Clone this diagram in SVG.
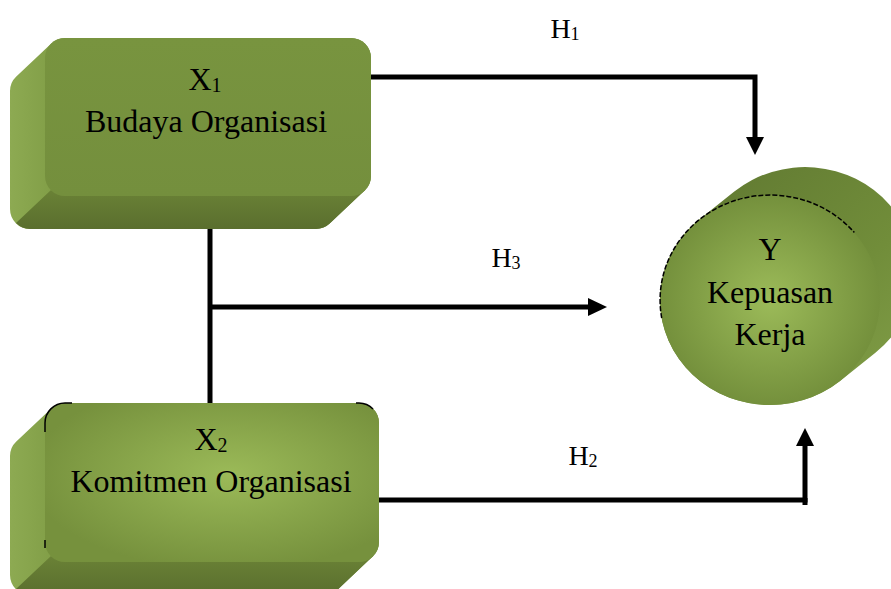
<svg xmlns="http://www.w3.org/2000/svg" width="891" height="589" viewBox="0 0 891 589">
<defs>
<style>
.lbl{fill:#000;text-anchor:middle;font-family:'Liberation Serif','Times New Roman',serif}
.big{font-size:32px}
.h{font-size:28px}
.conn{fill:none;stroke:#000;stroke-width:5;stroke-linecap:butt;stroke-linejoin:miter}
.side{fill:url(#sideL)}
.bottom{fill:url(#sideB)}
</style>
<linearGradient id="sideL" x1="0" y1="0" x2="1" y2="0">
<stop offset="0" stop-color="#8DAA52"/>
<stop offset="0.15" stop-color="#7E9B44"/>
<stop offset="1" stop-color="#6F8A38"/>
</linearGradient>
<linearGradient id="sideB" x1="0" y1="0" x2="0" y2="1">
<stop offset="0" stop-color="#6A8236"/>
<stop offset="1" stop-color="#5A6E2E"/>
</linearGradient>
<linearGradient id="front1" x1="0" y1="0" x2="0" y2="1">
<stop offset="0" stop-color="#78943F"/>
<stop offset="1" stop-color="#748F3D"/>
</linearGradient>
<radialGradient id="front2" cx="0.55" cy="0.45" r="0.6">
<stop offset="0" stop-color="#9BBA58"/>
<stop offset="1" stop-color="#76913D"/>
</radialGradient>
<radialGradient id="circ" cx="0.5" cy="0.5" r="0.5">
<stop offset="0" stop-color="#9CBB59"/>
<stop offset="1" stop-color="#74903C"/>
</radialGradient>
<linearGradient id="cyl" x1="0" y1="0" x2="1" y2="1">
<stop offset="0" stop-color="#5E7630"/>
<stop offset="0.6" stop-color="#718D3A"/>
<stop offset="1" stop-color="#83A049"/>
</linearGradient>
</defs>

<g id="connectors">
<polyline class="conn" points="371,77 755,77 755,138"/>
<path d="M746,137 L764,137 L755,155 Z" fill="#000"/>
<line class="conn" x1="210" y1="228" x2="210" y2="404"/>
<polyline class="conn" points="210,307 589,307"/>
<path d="M588,298 L588,316 L607,307 Z" fill="#000"/>
<polyline class="conn" points="379,500 805,500 805,446"/>
<line class="conn" x1="805" y1="498" x2="805" y2="505"/>
<path d="M796,446 L814,446 L805,428 Z" fill="#000"/>
</g>

<g id="node-x1">
<path class="side" d="M51.3,43.4 A20,20 0 0 1 65,38 L351,38 A20,20 0 0 1 371,58 L371,176 A20,20 0 0 1 364.7,190.6 L329.7,223.6 A20,20 0 0 1 316,229 L30,229 A20,20 0 0 1 10,209 L10,91 A20,20 0 0 1 16.3,76.4 Z"/>
<path class="bottom" d="M51,190 L365,190 L329.7,223.6 A20,20 0 0 1 316,229 L30,229 A20,20 0 0 1 16,223 Z"/>
<rect x="45" y="38" width="326" height="158" rx="20" fill="url(#front1)"/>
<text class="lbl big" x="205" y="90">X<tspan font-size="20" dy="2">1</tspan></text>
<text class="lbl big" x="206" y="132">Budaya Organisasi</text>
</g>

<g id="node-x2">
<path class="side" d="M51.3,408.4 A20,20 0 0 1 65,403 L359,403 A20,20 0 0 1 379,423 L379,542 A20,20 0 0 1 372.7,556.6 L337.7,589.6 A20,20 0 0 1 324,595 L30,595 A20,20 0 0 1 10,575 L10,456 A20,20 0 0 1 16.3,441.4 Z"/>
<path class="bottom" d="M51,556 L373,556 L337.7,589.6 A20,20 0 0 1 324,595 L30,595 A20,20 0 0 1 16,589 Z"/>
<rect x="45" y="403" width="334" height="159" rx="20" fill="url(#front2)"/>
<path d="M45,432 L45,423 A20,20 0 0 1 65,403 L72,403" fill="none" stroke="#000" stroke-width="1.5"/>
<path d="M356,403 L359,403 A20,20 0 0 1 373,409" fill="none" stroke="#000" stroke-width="1.5"/>
<path d="M45,540 L45,548" fill="none" stroke="#000" stroke-width="1.5"/>
<text class="lbl big" x="211" y="450">X<tspan font-size="20" dy="2">2</tspan></text>
<text class="lbl big" x="211" y="492">Komitmen Organisasi</text>
</g>

<g id="node-y">
<path fill="url(#cyl)" d="M699.3,219.6 L734.3,191.6 A110,105 0 0 1 889.3,204.5 A110,105 0 0 1 875.7,352.4 L840.7,380.4 A110,105 0 0 1 685.7,367.5 A110,105 0 0 1 699.3,219.6 Z"/>
<ellipse cx="770" cy="300" rx="110" ry="105" fill="url(#circ)"/>
<path d="M661.7,318 A110,105 0 0 1 854.3,232.5" fill="none" stroke="#000" stroke-width="1.5" stroke-dasharray="5,2"/>
<text class="lbl big" x="770" y="260">Y</text>
<text class="lbl big" x="770" y="303">Kepuasan</text>
<text class="lbl big" x="770" y="345">Kerja</text>
</g>

<g id="labels">
<text class="lbl h" x="565" y="38">H<tspan font-size="18" dy="2">1</tspan></text>
<text class="lbl h" x="506" y="267">H<tspan font-size="18" dy="2">3</tspan></text>
<text class="lbl h" x="583" y="465">H<tspan font-size="18" dy="2">2</tspan></text>
</g>
</svg>
